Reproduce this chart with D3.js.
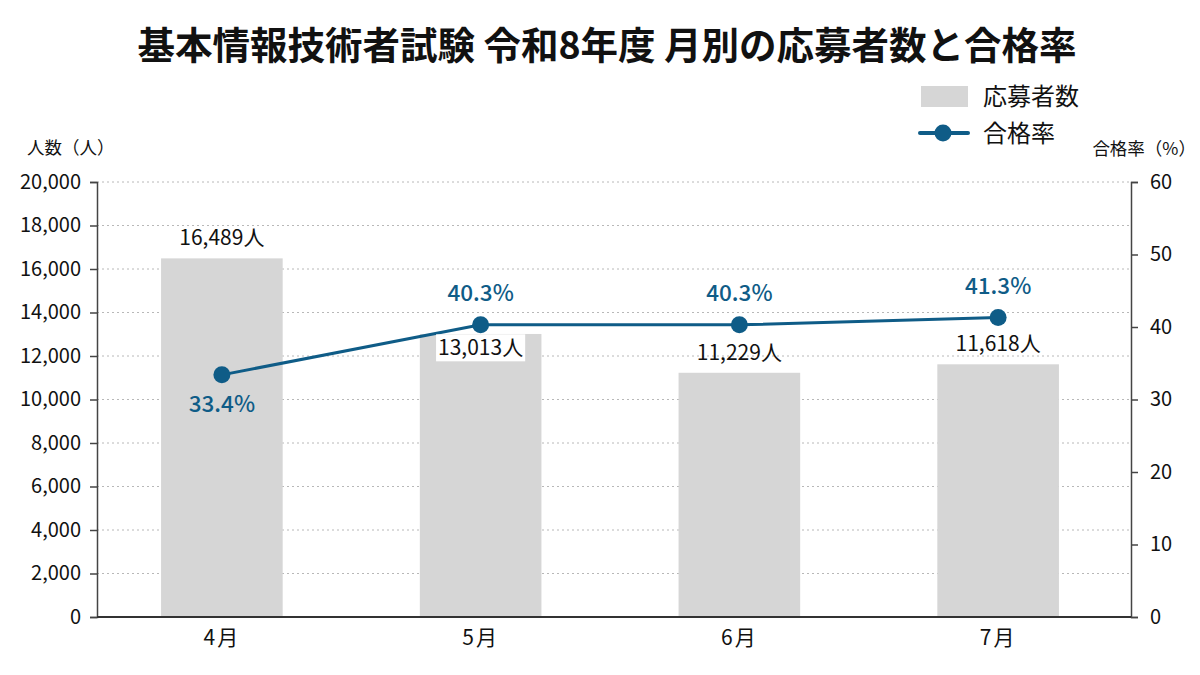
<!DOCTYPE html>
<html>
<head>
<meta charset="utf-8">
<script src="https://cdn.jsdelivr.net/npm/d3@7/dist/d3.min.js"></script>
<style>
  html, body { margin: 0; padding: 0; background: #fff; }
  svg { display: block; font-family: "Noto Sans CJK JP", "Noto Sans", sans-serif; }
</style>
</head>
<body>
<svg id="chart" width="1200" height="675"></svg>
<script>
// ---- data ----
const months = ["4月", "5月", "6月", "7月"];
const applicants = [16489, 13013, 11229, 11618];
const passRates = [33.4, 40.3, 40.3, 41.3];
const leftTicks = [0, 2000, 4000, 6000, 8000, 10000, 12000, 14000, 16000, 18000, 20000];
const rightTicks = [0, 10, 20, 30, 40, 50, 60];

const titleText = "基本情報技術者試験 令和8年度 月別の応募者数と合格率";
const leftAxisTitle = "人数（人）";
const rightAxisTitle = "合格率（%）";
const legendBar = "応募者数";
const legendLine = "合格率";

// ---- layout ----
const svg = d3.select("#chart");
const axL = 97, axR = 1131, plotTop = 182, plotBottom = 617;
const lineColor = "#0f5c87";
const barColor = "#d6d6d6";

const x = d3.scaleBand().domain(months).range([92.5, 1127.5]).paddingInner(0.53).paddingOuter(0.265);
const yL = d3.scaleLinear().domain([0, 20000]).range([plotBottom, plotTop]);
const yR = d3.scaleLinear().domain([0, 60]).range([plotBottom, plotTop]);

// title
svg.append("text").attr("x", 607).attr("y", 59).attr("text-anchor", "middle")
  .attr("font-size", 37.5).attr("font-weight", 700).attr("fill", "#111").text(titleText);

// gridlines
svg.append("g").selectAll("line").data(leftTicks.filter(d => d > 0)).join("line")
  .attr("x1", axL).attr("x2", axR).attr("y1", d => yL(d)).attr("y2", d => yL(d))
  .attr("stroke", "#b8b8b8").attr("stroke-width", 1).attr("stroke-dasharray", "2,3");

// bars
svg.append("g").selectAll("rect").data(months).join("rect")
  .attr("x", d => x(d)).attr("width", x.bandwidth())
  .attr("y", (d, i) => yL(applicants[i])).attr("height", (d, i) => plotBottom - yL(applicants[i]))
  .attr("fill", barColor);

// axes
const leftAxis = d3.axisLeft(yL).tickValues(leftTicks).tickSize(7).tickPadding(9)
  .tickFormat(d3.format(","));
const gL = svg.append("g").attr("transform", `translate(${axL},0)`).call(leftAxis);
gL.select(".domain").attr("stroke", "#444").attr("stroke-width", 1.5);
gL.selectAll(".tick line").attr("stroke", "#444").attr("stroke-width", 1.5);
gL.selectAll(".tick text").attr("font-size", 20).attr("fill", "#111")
  .attr("font-family", "'Noto Sans CJK JP', sans-serif");

const rightAxis = d3.axisRight(yR).tickValues(rightTicks).tickSize(7).tickPadding(12);
const gR = svg.append("g").attr("transform", `translate(${axR},0)`).call(rightAxis);
gR.select(".domain").attr("stroke", "#444").attr("stroke-width", 1.5);
gR.selectAll(".tick line").attr("stroke", "#444").attr("stroke-width", 1.5);
gR.selectAll(".tick text").attr("font-size", 20).attr("fill", "#111")
  .attr("font-family", "'Noto Sans CJK JP', sans-serif");

// baseline
svg.append("line").attr("x1", axL).attr("x2", axR).attr("y1", plotBottom).attr("y2", plotBottom)
  .attr("stroke", "#333").attr("stroke-width", 2);

// x labels
svg.append("g").selectAll("text").data(months).join("text")
  .attr("x", d => x(d) + x.bandwidth() / 2).attr("y", 645).attr("text-anchor", "middle")
  .attr("font-size", 21).attr("letter-spacing", 2).attr("fill", "#111").text(d => d);

// axis titles
svg.append("text").attr("x", 27).attr("y", 154).attr("font-size", 17.5).attr("fill", "#111").text(leftAxisTitle);
svg.append("text").attr("x", 1196).attr("y", 155).attr("text-anchor", "end").attr("font-size", 17.5).attr("fill", "#111").text(rightAxisTitle);

// line
const cx = d => x(d) + x.bandwidth() / 2;
const line = d3.line().x(d => cx(d)).y((d, i) => yR(passRates[i]));
svg.append("path").datum(months).attr("d", line)
  .attr("fill", "none").attr("stroke", lineColor).attr("stroke-width", 3);
const r = 8.5;
svg.append("g").selectAll("circle").data(months).join("circle")
  .attr("cx", cx).attr("cy", (d, i) => yR(passRates[i])).attr("r", r).attr("fill", lineColor);

// bar value labels (avoid the line marker)
const barLabels = svg.append("g");
months.forEach((m, i) => {
  const yTop = yL(applicants[i]);
  const yMk = yR(passRates[i]);
  let base = yTop - 13;
  let boxed = false;
  if (base + 4 > yMk - r - 4 && base - 20 < yMk + r + 4) {
    base = yMk + r + 22;
    boxed = true;
  }
  const t = barLabels.append("text").attr("x", cx(m)).attr("y", base).attr("text-anchor", "middle")
    .attr("font-size", 21).attr("fill", "#111").text(d3.format(",")(applicants[i]) + "人");
  if (boxed) {
    const bb = t.node().getBBox();
    barLabels.insert("rect", "text").attr("x", bb.x - 2).attr("y", bb.y + 3)
      .attr("width", bb.width + 4).attr("height", bb.height - 3).attr("fill", "#fff");
  }
});

// rate labels
svg.append("g").selectAll("text").data(months).join("text")
  .attr("x", cx)
  .attr("y", (d, i) => i === 0 ? yR(passRates[i]) + 37 : yR(passRates[i]) - 24)
  .attr("text-anchor", "middle").attr("font-size", 22.5).attr("font-weight", 500)
  .attr("fill", lineColor).text((d, i) => passRates[i].toFixed(1) + "%");

// legend
const lg = svg.append("g");
lg.append("rect").attr("x", 921).attr("y", 86).attr("width", 47).attr("height", 21).attr("fill", barColor);
lg.append("text").attr("x", 983).attr("y", 105).attr("font-size", 24).attr("fill", "#111").text(legendBar);
lg.append("line").attr("x1", 920).attr("x2", 968).attr("y1", 133).attr("y2", 133)
  .attr("stroke", lineColor).attr("stroke-width", 4).attr("stroke-linecap", "round");
lg.append("circle").attr("cx", 943).attr("cy", 133).attr("r", r).attr("fill", lineColor);
lg.append("text").attr("x", 983).attr("y", 142).attr("font-size", 24).attr("fill", "#111").text(legendLine);
</script>
</body>
</html>
